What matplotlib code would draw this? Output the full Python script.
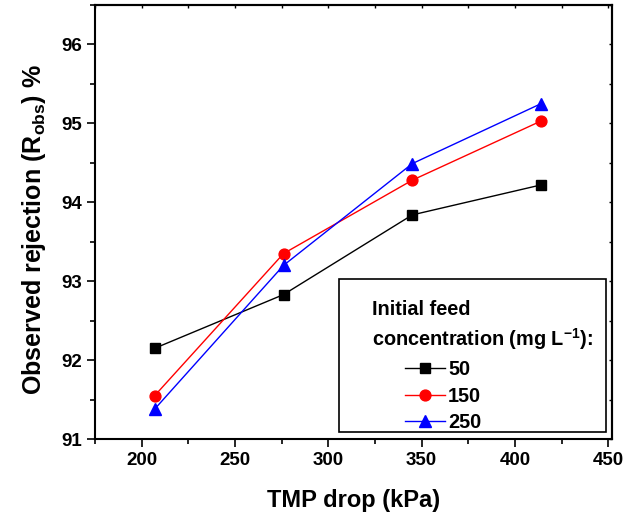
import matplotlib
matplotlib.use("Agg")
import matplotlib.pyplot as plt
from matplotlib.ticker import MultipleLocator
from matplotlib.patches import Rectangle

plt.rcParams['font.family'] = ['Liberation Sans', 'DejaVu Sans']
plt.rcParams['font.weight'] = 'bold'
plt.rcParams['mathtext.fontset'] = 'custom'
plt.rcParams['mathtext.rm'] = 'Liberation Sans:bold'
plt.rcParams['mathtext.bf'] = 'Liberation Sans:bold'
plt.rcParams['mathtext.it'] = 'Liberation Sans:bold'

tmp = [207, 276, 345, 414]
r50 = [92.15, 92.83, 93.84, 94.22]
r150 = [91.55, 93.35, 94.28, 95.03]
r250 = [91.38, 93.20, 94.49, 95.25]
labels = ['50', '150', '250']

fig = plt.figure(figsize=(6.27, 5.15), dpi=100)
ax = fig.add_axes([95/627, 1-439/515, (612-95)/627, (439-5)/515])

ax.plot(tmp, r50, color='black', marker='s', ms=7, lw=1, label=labels[0])
ax.plot(tmp, r150, color='red', marker='o', ms=7.8, lw=1, label=labels[1])
ax.plot(tmp, r250, color='blue', marker='^', ms=8.5, lw=1, label=labels[2])

ax.set_xlim(175, 452)
ax.set_ylim(91, 96.5)
ax.xaxis.set_major_locator(MultipleLocator(50))
ax.xaxis.set_minor_locator(MultipleLocator(25))
ax.yaxis.set_major_locator(MultipleLocator(1))
ax.yaxis.set_minor_locator(MultipleLocator(0.5))
ax.tick_params(which='both', direction='out', width=1.2, labelsize=13.5)
ax.tick_params(which='major', length=6)
ax.tick_params(which='minor', length=3.5)
for s in ax.spines.values():
    s.set_linewidth(1.5)

# top and right spines: small inward ticks, no labels
sx = ax.secondary_xaxis('top')
sx.xaxis.set_major_locator(MultipleLocator(50))
sx.xaxis.set_minor_locator(MultipleLocator(25))
sx.tick_params(which='both', direction='in', length=2.5, width=1, labeltop=False)
sy = ax.secondary_yaxis('right')
sy.yaxis.set_major_locator(MultipleLocator(1))
sy.yaxis.set_minor_locator(MultipleLocator(0.5))
sy.tick_params(which='both', direction='in', length=2.5, width=1, labelright=False)
sx.spines['top'].set_linewidth(1.5)
sy.spines['right'].set_linewidth(1.5)

ax.set_xlabel('TMP drop (kPa)', fontsize=17, fontweight='bold', labelpad=14)
ax.set_ylabel(r'Observed rejection (R$_{\mathbf{obs}}$) %', fontsize=18, fontweight='bold')
ax.yaxis.set_label_coords(-0.091, 0.482)

# legend frame and title
ax.add_patch(Rectangle((0.472, 0.016), 0.516, 0.353, transform=ax.transAxes,
                       fill=True, facecolor='white', edgecolor='black', lw=1.2, zorder=5))
ax.text(0.536, 0.286, 'Initial feed', transform=ax.transAxes, fontsize=14.3,
        fontweight='bold', va='baseline', ha='left', zorder=6)
ax.text(0.536, 0.214, r'concentration (mg L$^{\mathbf{-1}}$):', transform=ax.transAxes,
        fontsize=14.3, fontweight='bold', va='baseline', ha='left', zorder=6)

leg = ax.legend(loc='upper left', bbox_to_anchor=(0.600, 0.182), borderaxespad=0,
                borderpad=0, fontsize=14.3, frameon=False, handlelength=2.0,
                handletextpad=0.15, labelspacing=0.38)
leg.set_zorder(7)

fig.savefig('out.png', dpi=100)
